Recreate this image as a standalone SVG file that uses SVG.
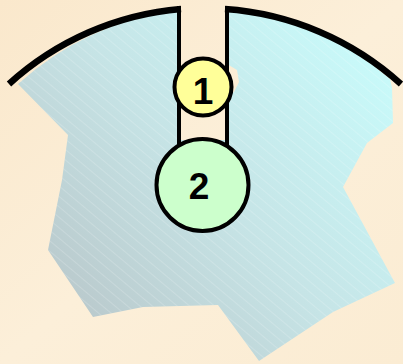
<svg xmlns="http://www.w3.org/2000/svg" width="403" height="364" viewBox="0 0 403 364">
  <defs>
    <linearGradient id="bg" x1="0" y1="0" x2="1" y2="1">
      <stop offset="0" stop-color="#fae8cc"/>
      <stop offset="0.5" stop-color="#fcefd9"/>
      <stop offset="1" stop-color="#fbecd3"/>
    </linearGradient>
    <linearGradient id="water" gradientUnits="userSpaceOnUse" x1="380" y1="60" x2="60" y2="330">
      <stop offset="0" stop-color="#c8fafa"/>
      <stop offset="0.5" stop-color="#c6e4e6"/>
      <stop offset="1" stop-color="#b8c6c9"/>
    </linearGradient>
    <pattern id="hatch" patternUnits="userSpaceOnUse" width="10" height="8" patternTransform="rotate(40)">
      <line x1="0" y1="0" x2="10" y2="0" stroke="#ffffff" stroke-opacity="0.35" stroke-width="1"/>
    </pattern>
    <style>
      .wall { fill: none; stroke: #000; stroke-linecap: butt; }
      .node circle { stroke: #000; stroke-width: 4; }
      .node text { font-family: "Liberation Sans", Arial, sans-serif; font-weight: bold; font-size: 37px; text-anchor: middle; fill: #000; }
    </style>
  </defs>
  <rect width="403" height="364" fill="url(#bg)"/>
  <g id="region">
    <path d="M 18 84 A 292 292 0 0 1 179 10 L 179 140 L 227 140 L 227 95 L 234 92 L 239 82 L 237 70 L 227 64 L 227 10 A 292 292 0 0 1 390 79 L 392 88 L 393 123 L 367 143 L 343 187 L 395 283 L 333 312 L 259 361 L 218 305 L 143 307 L 93 317 L 48 250 L 62 180 L 68 135 Z" fill="url(#water)"/>
    <path d="M 18 84 A 292 292 0 0 1 179 10 L 179 140 L 227 140 L 227 95 L 234 92 L 239 82 L 237 70 L 227 64 L 227 10 A 292 292 0 0 1 390 79 L 392 88 L 393 123 L 367 143 L 343 187 L 395 283 L 333 312 L 259 361 L 218 305 L 143 307 L 93 317 L 48 250 L 62 180 L 68 135 Z" fill="url(#hatch)"/>
  </g>
  <g id="walls">
    <path class="wall" stroke-width="6.5" d="M 9 84 A 292 292 0 0 1 181 9"/>
    <path class="wall" stroke-width="6.5" d="M 225 9 A 292 292 0 0 1 401 84"/>
    <path class="wall" stroke-width="4" d="M 179 6 L 179 145"/>
    <path class="wall" stroke-width="4" d="M 227 6 L 227 145"/>
  </g>
  <g id="node1" class="node">
    <circle cx="203" cy="87" r="28.5" fill="#ffff99"/>
    <text x="203" y="104">1</text>
  </g>
  <g id="node2" class="node">
    <circle cx="202.5" cy="185" r="46" fill="#ccffcc"/>
    <text x="199" y="199">2</text>
  </g>
</svg>
